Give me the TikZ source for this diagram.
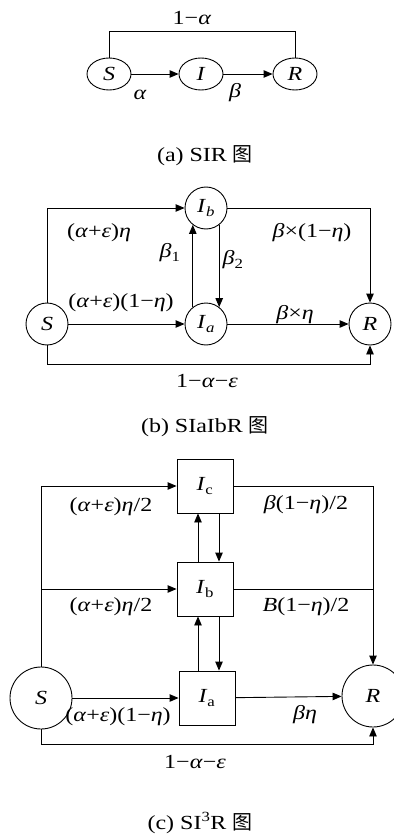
\documentclass[tikz,border=0pt]{standalone}
\usepackage{fontspec}
\setmainfont{Liberation Serif}[FakeStretch=1.2]
\newfontfamily\cjk{Noto Sans CJK SC}
\usetikzlibrary{arrows.meta,shapes.geometric}
\begin{document}
\begin{tikzpicture}[x=1pt,y=-1pt,
  every node/.style={font=\fontsize{20}{22}\selectfont},
  ln/.style={line width=0.9pt},
  arr/.style={ln,-{Triangle[length=9pt,width=7.5pt]}},
  ell/.style={draw,ellipse,inner sep=0pt,minimum width=44pt,minimum height=32pt,line width=0.9pt},
  circB/.style={draw,circle,inner sep=0pt,minimum size=42pt,line width=0.9pt},
  circC/.style={draw,circle,inner sep=0pt,minimum size=62pt,line width=0.9pt},
  box/.style={draw,rectangle,inner sep=0pt,minimum width=56pt,minimum height=54pt,line width=0.9pt},
  lab/.style={inner sep=0pt}]
\useasboundingbox (0,0) rectangle (393,834);
% ---------- (a)
\node[ell] (aS) at (109,74) {\textit{S}};
\node[ell] (aI) at (201,74) {\textit{I}};
\node[ell] (aR) at (295,74) {\textit{R}};
\coordinate (atop) at (0,31);
\draw[arr] (aS) -- (aI);
\draw[arr] (aI) -- (aR);
\draw[ln] (aS.north) -- (aS.north |- atop) -| (aR.north);
\node[lab] (la1) at (192,18) {1−\textit{α}};
\node[lab] (la2) at (140,95) {\textit{α}};
\node[lab] (la3) at (235,93) {\textit{β}};
\node[lab] (capa) at (205,156) {(a) SIR {\cjk 图}};
% ---------- (b)
\node[circB] (bS) at (47,324) {\textit{S}};
\node[circB] (bIb) at (206,208) {\textit{I}\textsubscript{\textit{b}}};
\node[circB] (bIa) at (206,324) {\textit{I}\textsubscript{\textit{a}}};
\node[circB] (bR) at (370,324) {\textit{R}};
\coordinate (bbot) at (0,364);
\draw[arr] (bS.north) |- (bIb.west);
\draw[arr] (bS) -- (bIa);
\draw[arr] (bIa) -- (bR);
\draw[arr] (bIb.east) -| (bR.north);
\draw[arr] (bS.south) -- (bS.south |- bbot) -| (bR.south);
\draw[arr] (bIa.128) -- (bIb.232);
\draw[arr] (bIb.308) -- (bIa.52);
\node[lab] (lb1) at (99,233) {(\textit{α}+\textit{ε})\textit{η}};
\node[lab] (lb2) at (121,303) {(\textit{α}+\textit{ε})(1−\textit{η})};
\node[lab] (lb3) at (170,253) {\textit{β}\textsubscript{1}};
\node[lab] (lb4) at (233,260) {\textit{β}\textsubscript{2}};
\node[lab] (lb5) at (312,233) {\textit{β}×(1−\textit{η})};
\node[lab] (lb6) at (295,315) {\textit{β}×\textit{η}};
\node[lab] (lb7) at (207,381) {1−\textit{α}−\textit{ε}};
\node[lab] (capb) at (205,427) {(b) SIaIbR {\cjk 图}};
% ---------- (c)
\node[circC] (cS) at (41,698) {\textit{S}};
\node[box] (cIc) at (205,486) {\textit{I}\textsubscript{c}};
\node[box] (cIb) at (205,589) {\textit{I}\textsubscript{b}};
\node[box] (cIa) at (207,698) {\textit{I}\textsubscript{a}};
\node[circC] (cR) at (373,696) {\textit{R}};
\coordinate (cbot) at (0,744);
\coordinate (cx1) at (198,0);
\coordinate (cx2) at (219,0);
\draw[arr] (cS.north) |- (cIc.west);
\draw[arr] (cS.north |- cIb.west) -- (cIb.west);
\draw[arr] (cS) -- (cIa);
\draw[arr] (cIa) -- (cR);
\draw[arr] (cIc.east) -| (cR.north);
\draw[ln] (cIb.east) -- (cIb.east -| cR.north);
\draw[arr] (cS.south) -- (cS.south |- cbot) -| (cR.south);
\draw[arr] (cIb.north -| cx1) -- (cIc.south -| cx1);
\draw[arr] (cIc.south -| cx2) -- (cIb.north -| cx2);
\draw[arr] (cIa.north -| cx1) -- (cIb.south -| cx1);
\draw[arr] (cIb.south -| cx2) -- (cIa.north -| cx2);
\node[lab] (lc1) at (111,507) {(\textit{α}+\textit{ε})\textit{η}/2};
\node[lab] (lc2) at (111,607) {(\textit{α}+\textit{ε})\textit{η}/2};
\node[lab] (lc3) at (306,505) {\textit{β}(1−\textit{η})/2};
\node[lab] (lc4) at (306,607) {\textit{B}(1−\textit{η})/2};
\node[lab] (lc5) at (118,717) {(\textit{α}+\textit{ε})(1−\textit{η})};
\node[lab] (lc6) at (305,715) {\textit{β}\textit{η}};
\node[lab] (lc7) at (195,762) {1−\textit{α}−\textit{ε}};
\node[lab] (capc) at (200,823) {(c) SI\textsuperscript{3}R {\cjk 图}};
\end{tikzpicture}
\end{document}
